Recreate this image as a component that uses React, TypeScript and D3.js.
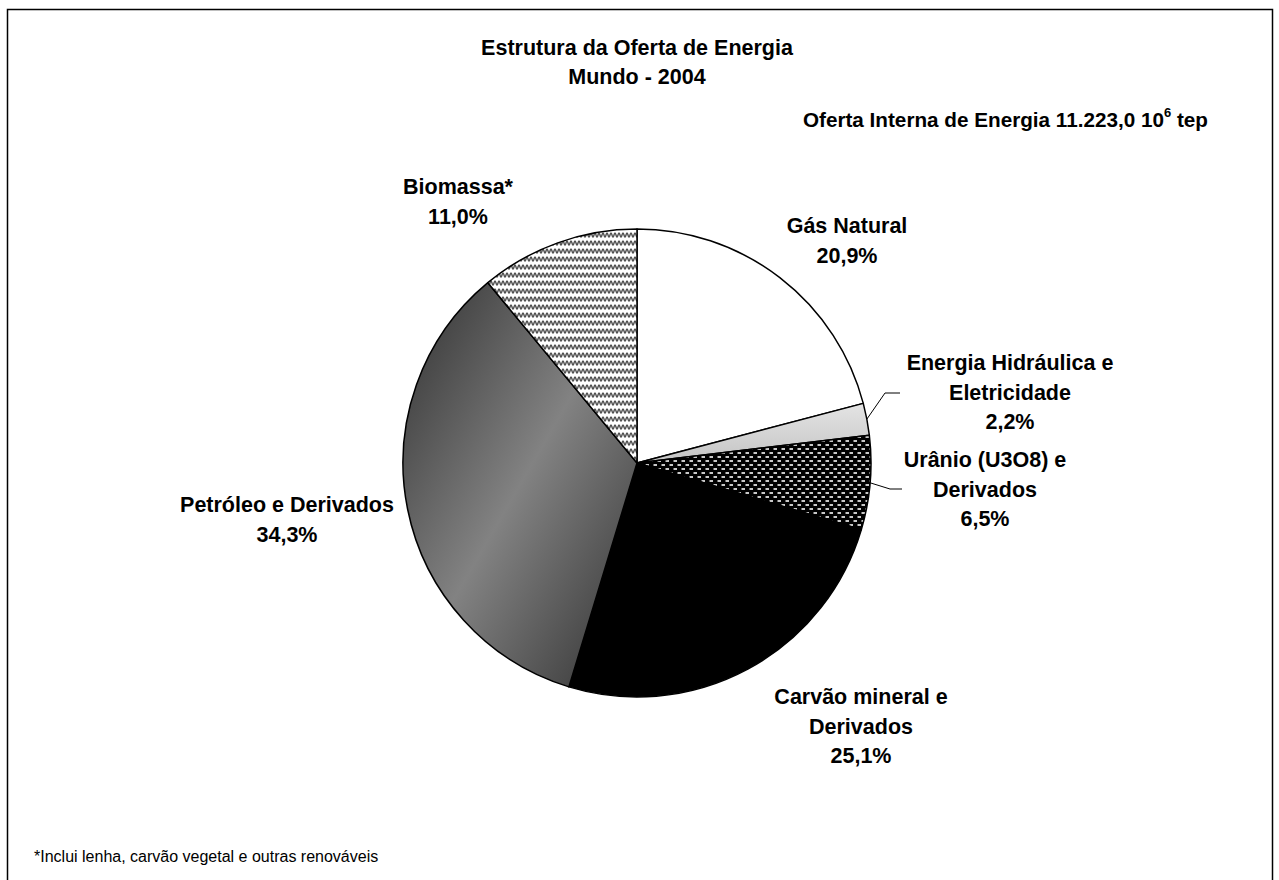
import React from "react";
import * as d3 from "d3";

const categories = [
  "Gás Natural",
  "Energia Hidráulica e Eletricidade",
  "Urânio (U3O8) e Derivados",
  "Carvão mineral e Derivados",
  "Petróleo e Derivados",
  "Biomassa*",
];
const values = [20.9, 2.2, 6.5, 25.1, 34.3, 11.0];
const valueLabels = ["20,9%", "2,2%", "6,5%", "25,1%", "34,3%", "11,0%"];
const labelLines = [
  ["Gás Natural"],
  ["Energia Hidráulica e", "Eletricidade"],
  ["Urânio (U3O8) e", "Derivados"],
  ["Carvão mineral e", "Derivados"],
  ["Petróleo e Derivados"],
  ["Biomassa*"],
];
const fills = [
  "#ffffff",
  "url(#gradHid)",
  "url(#patUran)",
  "#000000",
  "url(#gradPet)",
  "url(#patWave)",
];
// label positions (x center, first line center y)
const labelPos = [
  [847, 226],
  [1010, 363],
  [985, 460],
  [861, 697],
  [287, 505],
  [458, 187],
];
// leader lines: index -> elbow, end
const leaders: { [k: number]: number[][] } = {
  1: [[885, 393], [900, 393]],
  2: [[890, 489], [902, 489]],
};

const W = 1279;
const H = 880;
const cx = 637;
const cy = 463;
const R = 234;
const FONT = "Arial, 'Liberation Sans', Helvetica, sans-serif";
const FS = 21.5;
const LH = 29.5;

export default function App() {
  const pie = d3
    .pie<number>()
    .sort(null)
    .startAngle(0)
    .endAngle(2 * Math.PI)(values);
  const arc = d3.arc<d3.PieArcDatum<number>>().innerRadius(0).outerRadius(R);

  return (
    <svg
      width={W}
      height={H}
      style={{ position: "absolute", left: 0, top: 0, background: "#fff" }}
      fontFamily={FONT}
    >
      <defs>
        <linearGradient id="gradPet" x1="0" y1="0" x2="1" y2="1">
          <stop offset="0" stopColor="#303030" />
          <stop offset="0.5" stopColor="#828282" />
          <stop offset="1" stopColor="#303030" />
        </linearGradient>
        <linearGradient id="gradHid" x1="0" y1="0" x2="0" y2="1">
          <stop offset="0" stopColor="#e4e4e4" />
          <stop offset="1" stopColor="#c4c4c4" />
        </linearGradient>
        <pattern id="patUran" width="8" height="8" patternUnits="userSpaceOnUse">
          <rect width="8" height="8" fill="#000" />
          <rect x="0.5" y="1" width="3.5" height="2" fill="#c8c8c8" />
          <rect x="4.5" y="5" width="3.5" height="2" fill="#c8c8c8" />
        </pattern>
        <pattern id="patWave" width="8" height="8" patternUnits="userSpaceOnUse">
          <rect width="8" height="8" fill="#fff" />
          <path
            d="M0,6 C1,6 1,2 2,2 C3,2 3,6 4,6 C5,6 5,2 6,2 C7,2 7,6 8,6"
            fill="none"
            stroke="#505050"
            strokeWidth="1.4"
          />
        </pattern>
      </defs>

      <rect x={7.5} y={9.5} width={1265} height={900} fill="#fff" stroke="#000" strokeWidth={1.5} />

      <text x={637} y={48} textAnchor="middle" dominantBaseline="central" fontWeight="bold" fontSize={FS}>
        Estrutura da Oferta de Energia
      </text>
      <text x={637} y={77} textAnchor="middle" dominantBaseline="central" fontWeight="bold" fontSize={FS}>
        Mundo - 2004
      </text>
      <text x={1208} y={127} textAnchor="end" fontWeight="bold" fontSize={20.7}>
        Oferta Interna de Energia 11.223,0 10
        <tspan dy={-10} fontSize={13}>6</tspan>
        <tspan dy={10}> tep</tspan>
      </text>

      <g transform={`translate(${cx},${cy})`}>
        {pie.map((d, i) => (
          <path key={i} d={arc(d) || ""} fill={fills[i]} stroke="#000" strokeWidth={1.5} strokeLinejoin="round" />
        ))}
      </g>

      {pie.map((d, i) => {
        const lp = leaders[i];
        if (!lp) return null;
        const mid = (d.startAngle + d.endAngle) / 2;
        const ax = cx + R * Math.sin(mid);
        const ay = cy - R * Math.cos(mid);
        const pts = [[ax, ay], ...lp];
        return (
          <polyline key={"l" + i} points={pts.map((p) => p.join(",")).join(" ")} fill="none" stroke="#000" strokeWidth={1} />
        );
      })}

      {categories.map((c, i) => {
        const lines = [...labelLines[i], valueLabels[i]];
        const [lx, ly] = labelPos[i];
        return (
          <text key={c} textAnchor="middle" fontWeight="bold" fontSize={FS}>
            {lines.map((t, j) => (
              <tspan key={j} x={lx} y={ly + j * LH} dominantBaseline="central">
                {t}
              </tspan>
            ))}
          </text>
        );
      })}

      <text x={34} y={856} dominantBaseline="central" fontSize={16}>
        *Inclui lenha, carvão vegetal e outras renováveis
      </text>
    </svg>
  );
}
